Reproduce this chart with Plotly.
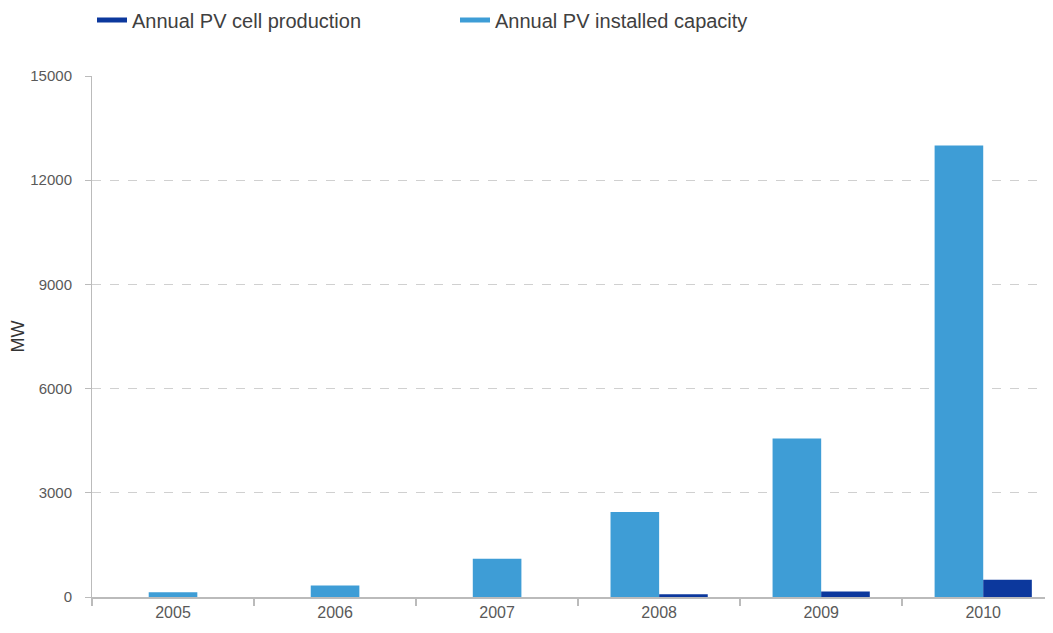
import plotly.graph_objects as go

years = ["2005", "2006", "2007", "2008", "2009", "2010"]
installed = [140, 330, 1100, 2450, 4560, 13000]
production = [None, None, None, 80, 160, 500]
y_ticks = [0, 3000, 6000, 9000, 12000, 15000]

light = "#3e9dd6"
dark = "#0c389d"
bar_w = 0.3

# installed bar sits left of centre when a production bar exists, else centred
inst_offset = [-bar_w if p is not None else -bar_w / 2 for p in production]

fig = go.Figure()
fig.add_trace(go.Bar(x=years, y=installed, width=bar_w, offset=inst_offset,
                     marker=dict(color=light, line=dict(width=0)), showlegend=False))
fig.add_trace(go.Bar(x=years, y=production, width=bar_w, offset=0,
                     marker=dict(color=dark, line=dict(width=0)), showlegend=False))

# legend entries drawn as short thick lines
fig.add_trace(go.Scatter(x=[None], y=[None], mode="lines", name="Annual PV cell production",
                         line=dict(color=dark, width=5)))
fig.add_trace(go.Scatter(x=[None], y=[None], mode="lines", name="Annual PV installed capacity",
                         line=dict(color=light, width=5)))

# the page body has an 8px margin, so the figure margins are trimmed by 8px
fig.update_layout(
    width=1053, height=633,
    barmode="overlay",
    plot_bgcolor="white", paper_bgcolor="white",
    font=dict(family="Liberation Sans, Arial, sans-serif", size=16, color="#595959"),
    margin=dict(l=84, r=0, t=68, b=44, autoexpand=False),
    legend=dict(orientation="h", x=0.0, xanchor="left", y=1.1075, yanchor="middle",
                font=dict(size=20, color="#404040"), entrywidth=318, entrywidthmode="pixels"),
    xaxis=dict(type="category", range=[-0.5, 5.48], tickson="boundaries",
               ticks="outside", ticklen=7, tickcolor="#bbbbbb", tickwidth=2,
               showline=True, linecolor="#bbbbbb", linewidth=2,
               showgrid=False, fixedrange=True, automargin=False),
    yaxis=dict(range=[0, 15000], tickvals=y_ticks, ticktext=[str(v) for v in y_ticks],
               ticks="outside", ticklen=6, tickcolor="#bbbbbb", ticklabelstandoff=10,
               tickfont=dict(size=15),
               showline=True, linecolor="#bbbbbb", linewidth=1,
               showgrid=True, gridcolor="#d0d0d0", griddash="dash", gridwidth=1,
               zeroline=False, automargin=False,
               title=dict(text="MW", font=dict(size=18, color="#333333"), standoff=14)),
)

fig.write_html("out.html")
